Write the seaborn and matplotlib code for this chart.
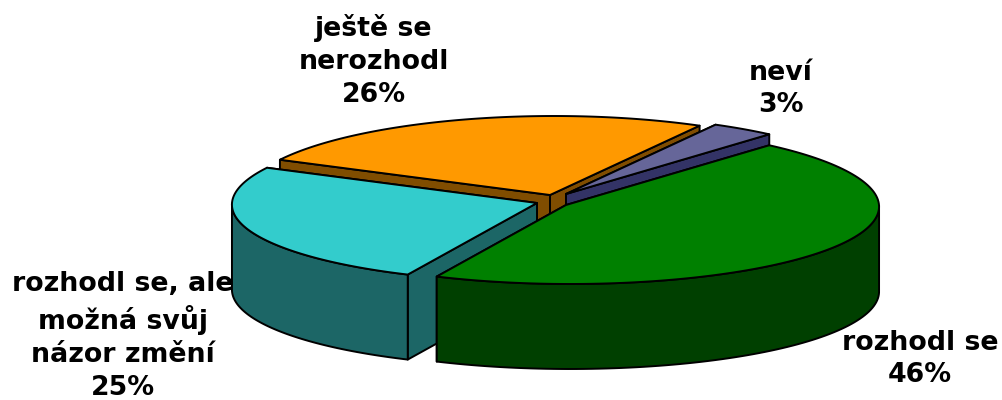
import numpy as np
import matplotlib
matplotlib.use('Agg')
import matplotlib.pyplot as plt
import seaborn as sns

# clockwise, starting at the left edge of the orange slice
labels = ['ještě se\nnerozhodl', 'neví', 'rozhodl se', 'rozhodl se, ale\nmožná svůj\nnázor změní']
values = [25.6, 3.4, 45.6, 25.4]
top_colors = ['#FF9900', '#666699', '#008000', '#33CCCC']
side_colors = ['#804D00', '#333366', '#004000', '#1C6666']

start_angle = 153.5
apex = [(550, 195), (566, 194), (566, 205), (537, 203)]
label_pos = [(374, 61), (781, 89), (920, 359), (123, 336)]
draw_order = [0, 1, 3, 2]
rx, ry, depth, persp, rim_shift = 309, 79, 85, 0.02, 4

sns.set_theme(style='white')
plt.rcParams['font.family'] = ['DejaVu Sans']


def rim(cx, cy, angles):
    a = np.radians(angles)
    x = cx + rim_shift + rx * np.cos(a) * (1 - persp * np.sin(a))
    y = cy - ry * np.sin(a)
    return x, y


fig, ax = plt.subplots(figsize=(10.02, 4), dpi=100)
fig.subplots_adjust(0, 0, 1, 1)
ax.set_xlim(0, 1002)
ax.set_ylim(400, 0)
ax.axis('off')

edges = start_angle - np.cumsum([0] + values) * 3.6
style = dict(edgecolor='black', linewidth=1.4, joinstyle='round')

for i in draw_order:
    cx, cy = apex[i]
    hi, lo = edges[i], edges[i + 1]
    theta = np.linspace(hi, lo, 120)
    x, y = rim(cx, cy, theta)

    # radial walls, the one further back first
    ends = sorted([(y[0], x[0]), (y[-1], x[-1])])
    for end_y, end_x in ends:
        ax.fill([cx, end_x, end_x, cx], [cy, end_y, end_y + depth, cy + depth],
                facecolor=side_colors[i], **style)

    # outer wall, only the part facing the viewer
    front = np.sin(np.radians(theta)) <= 0
    if front.any():
        fx, fy = x[front], y[front]
        ax.fill(np.r_[fx, fx[::-1]], np.r_[fy, fy[::-1] + depth],
                facecolor=side_colors[i], **style)

    ax.fill(np.r_[cx, x], np.r_[cy, y], facecolor=top_colors[i], **style)

for lab, val, (tx, ty) in zip(labels, values, label_pos):
    ax.text(tx, ty, f'{lab}\n{val:.0f}%', ha='center', va='center', fontsize=19.3,
            fontweight='bold', color='black', linespacing=1.34, clip_on=False)

fig.savefig('out.png', dpi=100)
